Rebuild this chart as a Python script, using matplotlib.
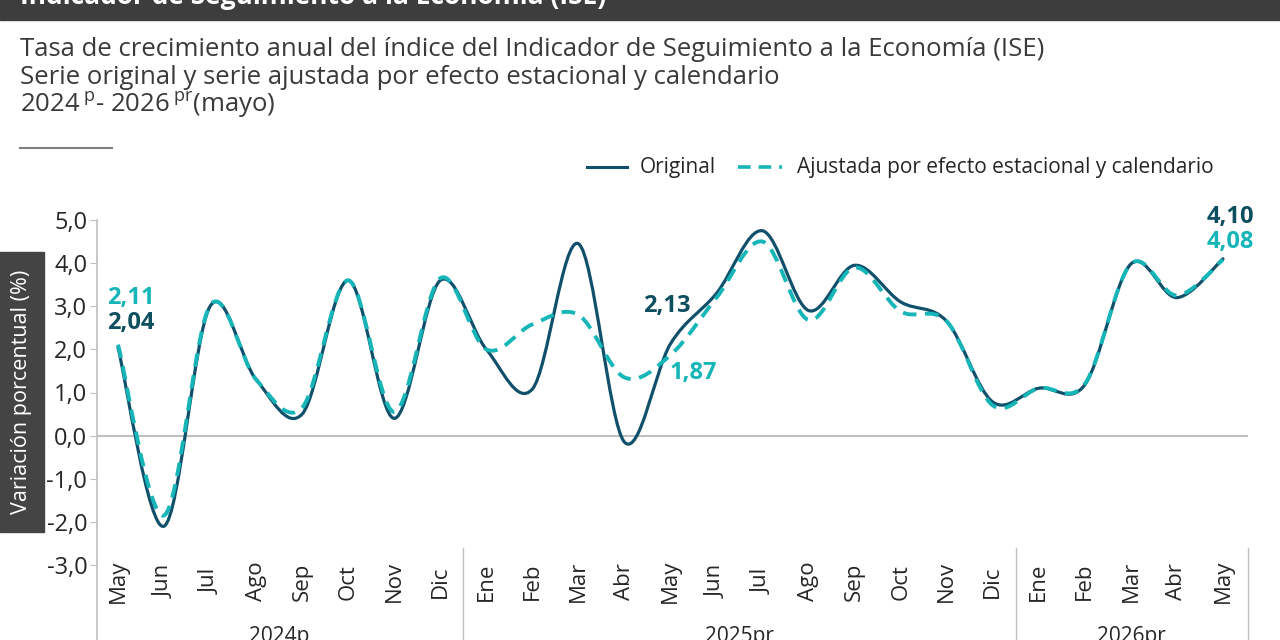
import numpy as np
import matplotlib.pyplot as plt
from matplotlib.path import Path
from matplotlib.patches import PathPatch
from matplotlib.lines import Line2D
from matplotlib.transforms import blended_transform_factory

plt.rcParams['font.family'] = ['Open Sans', 'DejaVu Sans']
plt.rcParams['mathtext.fontset'] = 'custom'
plt.rcParams['mathtext.rm'] = 'Open Sans'

NAVY = "#11506b"
NAVY_TXT = "#0e4f5f"
CYAN = "#16b5b7"
GRAY = "#bfbfbf"
DARK = "#3d3d3d"

months = ["May", "Jun", "Jul", "Ago", "Sep", "Oct", "Nov", "Dic",
          "Ene", "Feb", "Mar", "Abr", "May", "Jun", "Jul", "Ago", "Sep", "Oct", "Nov", "Dic",
          "Ene", "Feb", "Mar", "Abr", "May"]
years = ["2024p", "2025pr", "2026pr"]
year_spans = [(0, 7), (8, 19), (20, 24)]

original = [2.04, -2.10, 3.00, 1.30, 0.50, 3.60, 0.40, 3.60,
            2.00, 1.08, 4.45, -0.15, 2.13, 3.30, 4.75, 2.90, 3.95, 3.10, 2.65, 0.78,
            1.10, 1.18, 3.98, 3.20, 4.10]
ajustada = [2.11, -1.85, 3.02, 1.30, 0.65, 3.60, 0.55, 3.65,
            2.00, 2.58, 2.80, 1.35, 1.87, 3.20, 4.50, 2.68, 3.90, 2.88, 2.65, 0.70,
            1.10, 1.20, 3.98, 3.25, 4.08]

# etiquetas de dato: (indice, texto, dx, y)
labels_orig = [(0, "2,04", 0.28, 2.60), (12, "2,13", -0.09, 3.00), (24, "4,10", 0.15, 5.08)]
labels_aj = [(0, "2,11", 0.28, 3.20), (12, "1,87", 0.50, 1.46), (24, "4,08", 0.15, 4.48)]


def smooth_path(x, y):
    # curva suavizada tipo Excel (Catmull-Rom en Bezier)
    pts = np.column_stack([np.asarray(x, float), np.asarray(y, float)])
    verts = [pts[0]]
    codes = [Path.MOVETO]
    n = len(pts)
    for i in range(n - 1):
        p0 = pts[i - 1] if i > 0 else pts[i]
        p1 = pts[i]
        p2 = pts[i + 1]
        p3 = pts[i + 2] if i + 2 < n else pts[i + 1]
        verts += [p1 + (p2 - p0) / 6.0, p2 - (p3 - p1) / 6.0, p2]
        codes += [Path.CURVE4] * 3
    return Path(verts, codes)


fig = plt.figure(figsize=(12.8, 6.4), dpi=100)
W, H = 1280, 640

# barra de titulo (recortada)
fig.patches.append(plt.Rectangle((0, 1 - 20 / H), 1, 20 / H, transform=fig.transFigure,
                                 color=DARK, zorder=0))
fig.text(20 / W, 1 - 4 / H, "Indicador de Seguimiento a la Economía (ISE)", color="white",
         fontsize=19, fontweight="bold", va="baseline", ha="left")

sub_kw = dict(fontsize=18.5, color="#3a3a3a", va="baseline")
fig.text(20 / W, 1 - 56 / H,
         "Tasa de crecimiento anual del índice del Indicador de Seguimiento a la Economía (ISE)",
         **sub_kw)
fig.text(20 / W, 1 - 84 / H, "Serie original y serie ajustada por efecto estacional y calendario",
         **sub_kw)
fig.text(20 / W, 1 - 112 / H, r"2024$\,{}^{\mathrm{p}}$- 2026$\,{}^{\mathrm{pr}}$(mayo)",
         **sub_kw)
fig.add_artist(Line2D([20 / W, 112 / W], [1 - 148 / H] * 2, color="#7f7f7f", lw=1.5))

# leyenda manual
ly = 1 - 167 / H
fig.add_artist(Line2D([587 / W, 627 / W], [ly, ly], color=NAVY, lw=2.2))
fig.text(640 / W, ly, "Original", fontsize=15, color="#262626", va="center")
fig.add_artist(Line2D([738 / W, 782 / W], [ly, ly], color=CYAN, lw=2.6, ls=(0, (3.5, 2.2))))
fig.text(797 / W, ly, "Ajustada por efecto estacional y calendario", fontsize=15,
         color="#262626", va="center")

# caja del titulo del eje y
fig.patches.append(plt.Rectangle((0, 1 - 532 / H), 44 / W, 280 / H, transform=fig.transFigure,
                                 color="#444444", zorder=0))
fig.text(22 / W, 1 - 392 / H, "Variación porcentual (%)", rotation=90, color="white",
         fontsize=15.5, ha="center", va="center")

ax = fig.add_axes([97 / W, 1 - 565 / H, 1151 / W, 345 / H])
x = np.arange(len(months))
xmin, xmax = -21 / 46, 24 + 25 / 46
ax.set_xlim(xmin, xmax)
ax.set_ylim(-3, 5)

for s in ax.spines.values():
    s.set_visible(False)
ax.set_xticks([])
yt = np.arange(-3, 6, 1)
ax.set_yticks(yt)
ax.set_yticklabels([f"{v:.1f}".replace(".", ",") for v in yt], fontsize=17, color="#262626")
ax.tick_params(axis="y", length=5, color=GRAY, pad=2)
ax.axhline(0, color=GRAY, lw=1.5, zorder=1)

y_bottom = -3 - 75 / 43.125
ax.plot([xmin, xmin], [5, y_bottom], color=GRAY, lw=1.2, clip_on=False)
for sx in [7.5, 19.5, xmax]:
    ax.plot([sx, sx], [-2.6, y_bottom], color=GRAY, lw=1.0, clip_on=False)

ax.add_patch(PathPatch(smooth_path(x, original), fill=False, ec=NAVY, lw=2.3,
                       zorder=3, capstyle="round"))
ax.add_patch(PathPatch(smooth_path(x, ajustada), fill=False, ec=CYAN, lw=2.8,
                       ls=(0, (3.5, 2.2)), zorder=4))

for i, m in enumerate(months):
    ax.text(i, -3.386, m, rotation=90, ha="center", va="center", fontsize=16,
            color="#262626", clip_on=False)

trans = blended_transform_factory(ax.transData, fig.transFigure)
for yl, (a, b) in zip(years, year_spans):
    ax.text((a + b) / 2, 1 - 626 / H, yl, ha="center", va="top", fontsize=15,
            color="#262626", transform=trans, clip_on=False)

for i, t, dx, yy in labels_orig:
    ax.text(i + dx, yy, t, color=NAVY_TXT, fontsize=17, fontweight="bold",
            ha="center", va="center", clip_on=False, zorder=5)
for i, t, dx, yy in labels_aj:
    ax.text(i + dx, yy, t, color=CYAN, fontsize=17, fontweight="bold",
            ha="center", va="center", clip_on=False, zorder=5)

fig.savefig("out.png", dpi=100)
